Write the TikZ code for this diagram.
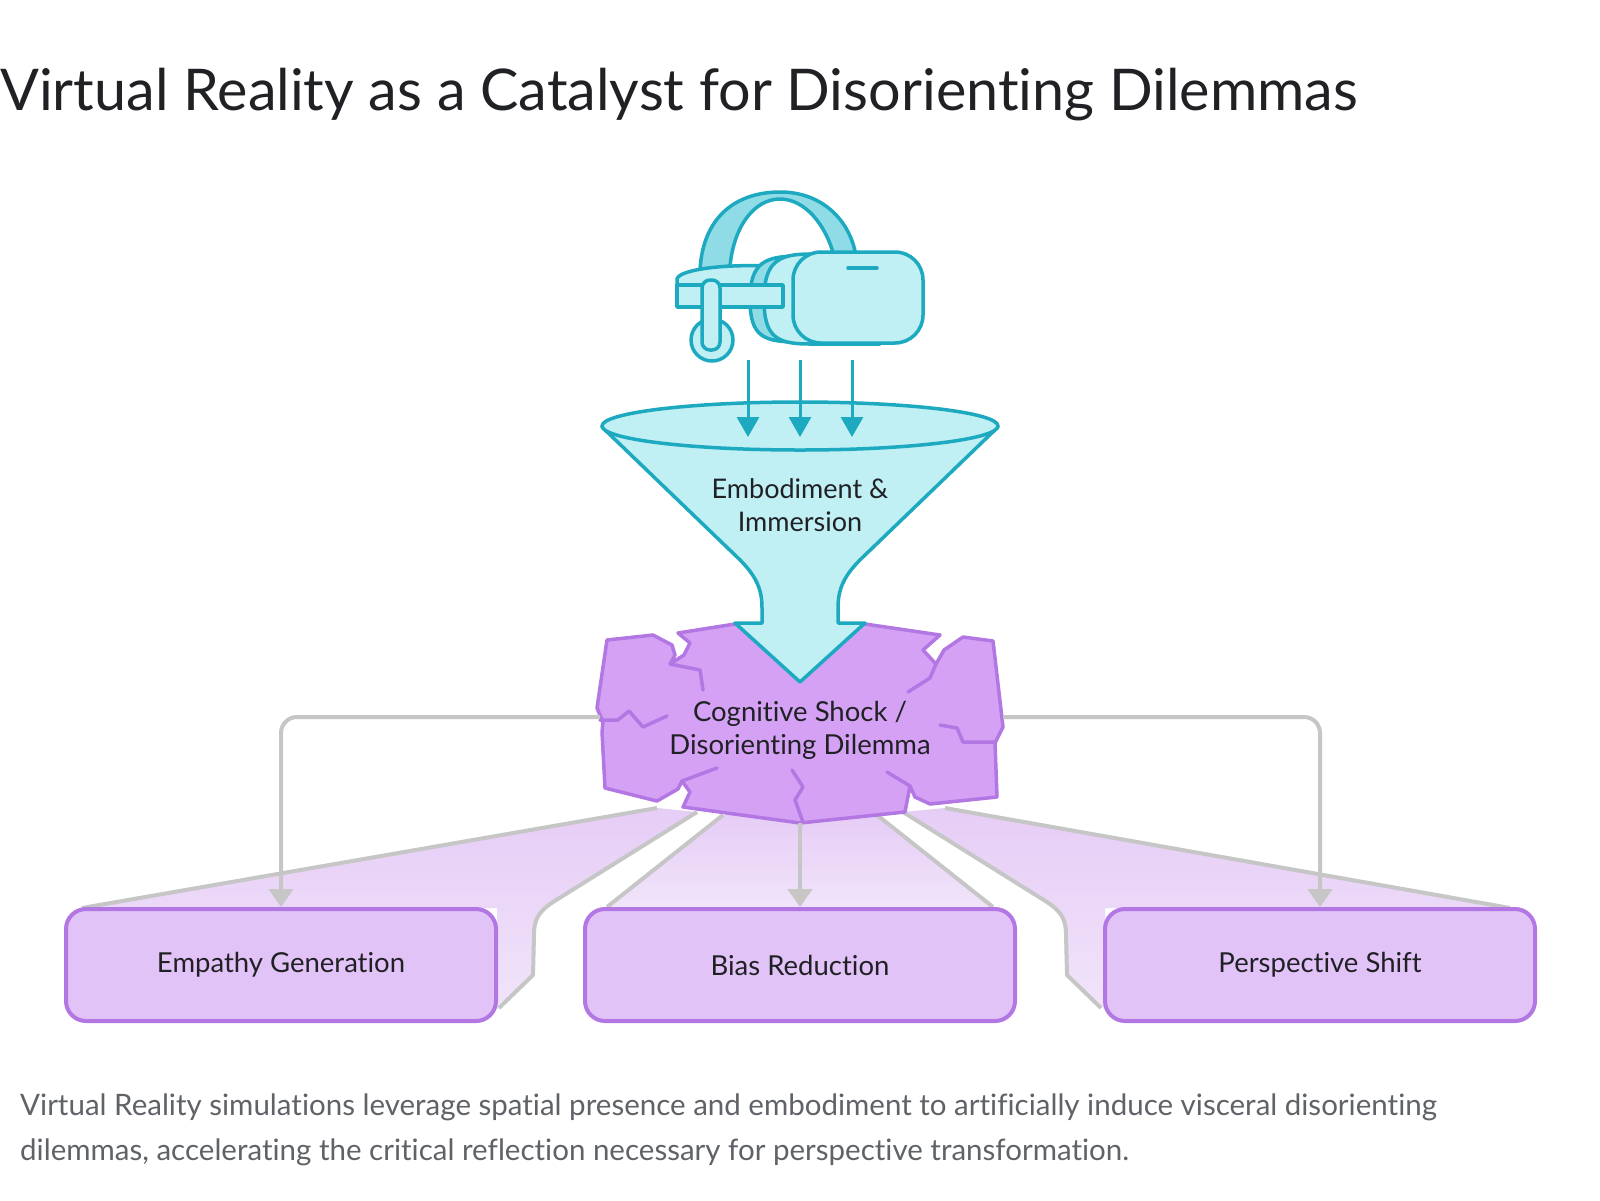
\documentclass[tikz,border=0pt]{standalone}
\usepackage{fontspec}
\setmainfont{Lato}[Ligatures=NoCommon]
\usetikzlibrary{arrows.meta}
\definecolor{tealD}{HTML}{1DA9BF}
\definecolor{tealL}{HTML}{C0EFF4}
\definecolor{tealM}{HTML}{8FDCE7}
\definecolor{purF}{HTML}{D5A1F5}
\definecolor{purS}{HTML}{B277E2}
\definecolor{boxF}{HTML}{E2C3F7}
\definecolor{beamA}{HTML}{E6CDF6}
\definecolor{beamB}{HTML}{F1E4FA}
\definecolor{grayL}{HTML}{C6C6C6}
\definecolor{capC}{HTML}{5F6368}
\definecolor{txtC}{HTML}{202124}
\begin{document}
\begin{tikzpicture}[x=1pt,y=-1pt,
  tealline/.style={draw=tealD,line width=3.5pt,line join=round},
  purline/.style={draw=purS,line width=3.5pt,line join=round,line cap=round},
  grayline/.style={draw=grayL,line width=4pt,line join=round},
  conn/.style={draw=grayL,line width=4pt,rounded corners=16pt,-{Triangle[width=24pt,length=18pt]}},
  tarrow/.style={draw=tealD,line width=3pt,-{Triangle[width=22pt,length=20pt]}},
  outbox/.style={draw=purS,fill=boxF,line width=4pt,rounded corners=20pt,minimum width=430pt,minimum height=112pt,font=\fontsize{27.5pt}{32pt}\selectfont,text=txtC},
  lbl/.style={align=center,inner sep=0pt,text=txtC}]
\useasboundingbox[fill=white] (0,0) rectangle (1600,1200);

% title
\node[anchor=base west,inner sep=0pt,font=\fontsize{57.5pt}{62pt}\selectfont,text=txtC] (title) at (0,110) {Virtual Reality as a Catalyst for Disorienting Dilemmas};

% named points on the shock shape
\coordinate (shockW) at (600,717);
\coordinate (shockE) at (1003,717);
\coordinate (shockS) at (800,823);

% beams
\shade[top color=beamA,bottom color=beamB] (657,808) -- (82,908) -- (497,908) -- (497,1010) -- (533,975) -- (534,935) .. controls (534,920) and (538,912) .. (553,902) -- (697,812) -- cycle;
\shade[top color=beamA,bottom color=beamB] (723,815) -- (607,907) -- (993,907) -- (877,815) -- cycle;
\shade[top color=beamA,bottom color=beamB] (945,808) -- (1510,908) -- (1105,908) -- (1105,1010) -- (1067,975) -- (1066,935) .. controls (1066,920) and (1062,912) .. (1047,902) -- (903,812) -- cycle;
\draw[grayline] (657,808) -- (82,908);
\draw[grayline] (697,812) -- (553,902) .. controls (538,912) and (534,920) .. (534,935) -- (533,975) -- (499,1008);
\draw[grayline] (723,815) -- (607,907);
\draw[grayline] (877,815) -- (993,907);
\draw[grayline] (945,808) -- (1510,908);
\draw[grayline] (903,812) -- (1047,902) .. controls (1062,912) and (1066,920) .. (1066,935) -- (1067,975) -- (1101,1008);

% shock shape
\draw[purline,fill=purF] (607,640) -- (653,635) -- (672,645) -- (675,655) -- (670,664) -- (684,655) -- (690,643) -- (678,633) -- (735,624) -- (865,624) -- (940,635) -- (923,650) -- (936,664) -- (944,650) -- (963,637) -- (993,641) -- (1003,727) -- (995,743) -- (997,797) -- (930,804) -- (915,797) -- (910,786) -- (905,812) -- (800,823) -- (683,807) -- (690,792) -- (682,781) -- (678,789) -- (657,801) -- (605,788) -- (602,732) -- (603,722) -- (597,708) -- cycle;
\draw[purline] (670,664) -- (700,670) -- (703,690);
\draw[purline] (936,664) -- (930,678) -- (908,692);
\draw[purline] (600,720) -- (618,720) -- (629,711) -- (643,727) -- (667,716);
\draw[purline] (940,725) -- (957,728) -- (963,742) -- (995,742);
\draw[purline] (910,786) -- (887,772);
\draw[purline] (682,781) -- (717,768);
\draw[purline] (792,770) -- (803,787) -- (795,800) -- (803,822);

% funnel
\draw[tealline,fill=tealL] (602,427) -- (737,557) .. controls (757,576) and (762,590) .. (762,608) -- (762,623) -- (735,623) -- (800,682) -- (865,623) -- (838,623) -- (838,608) .. controls (838,590) and (843,576) .. (863,557) -- (998,427) -- cycle;
\draw[tealline,fill=tealL] (800,426) ellipse [x radius=198pt,y radius=24pt];

% headset
\coordinate (hs1) at (748,360);
\coordinate (hs2) at (800,360);
\coordinate (hs3) at (852,360);
\coordinate (fn1) at (748,437);
\coordinate (fn2) at (800,437);
\coordinate (fn3) at (852,437);
\draw[tarrow] (hs1) -- (fn1);
\draw[tarrow] (hs2) -- (fn2);
\draw[tarrow] (hs3) -- (fn3);

\draw[tealline,fill=tealM] (700,270) .. controls (703,215) and (738,192) .. (780,192) .. controls (822,192) and (850,220) .. (856,256) -- (834,256) .. controls (826,225) and (805,199) .. (780,199) .. controls (755,199) and (734,225) .. (730,266) -- cycle;
\draw[tealline,fill=tealL] (677,290) -- (677,279) .. controls (679,270) and (720,264) .. (770,266) -- (775,290) -- cycle;
\draw[tealline,fill=tealM] (750,300) .. controls (750,262) and (765,256) .. (800,256) -- (880,256) -- (880,342) -- (800,342) .. controls (765,342) and (750,338) .. (750,300) -- cycle;
\draw[tealline,fill=tealL] (764,300) .. controls (764,262) and (778,254) .. (810,254) -- (880,254) -- (880,344) -- (810,344) .. controls (778,344) and (764,338) .. (764,300) -- cycle;
\draw[tealline,fill=tealL] (677,285) rectangle (783,307);
\draw[tealline,fill=tealL] (712,340) circle [radius=21pt];
\draw[tealline,fill=tealL,rounded corners=8pt] (702,280) rectangle (720,350);
\draw[tealline,fill=tealL,rounded corners=28pt] (793,252) rectangle (923,343);
\draw[tealline,line cap=round] (848,268) -- (877,268);

% boxes
\node[outbox] (emp) at (281,965) {Empathy Generation};
\node[outbox] (bias) at (800,965) {Bias Reduction};
\node[outbox] (persp) at (1320,965) {Perspective Shift};

% connectors
\draw[conn] (shockW) -| (emp.north);
\draw[conn] (shockE) -| (persp.north);
\draw[conn] (shockS) -- (bias.north);

% labels
\node[lbl,font=\fontsize{27pt}{33pt}\selectfont] (fun) at (800,505) {Embodiment \&\\Immersion};
\node[lbl,font=\fontsize{27.5pt}{33pt}\selectfont] (shock) at (800,730) {Cognitive Shock /\\Disorienting Dilemma};

% caption
\node[anchor=base west,inner sep=0pt,font=\fontsize{29.5pt}{34pt}\selectfont,text=capC] (cap1) at (20,1115) {Virtual Reality simulations leverage spatial presence and embodiment to artificially induce visceral disorienting};
\node[anchor=base west,inner sep=0pt,font=\fontsize{29.5pt}{34pt}\selectfont,text=capC] (cap2) at (20,1160) {dilemmas, accelerating the critical reflection necessary for perspective transformation.};
\end{tikzpicture}
\end{document}
